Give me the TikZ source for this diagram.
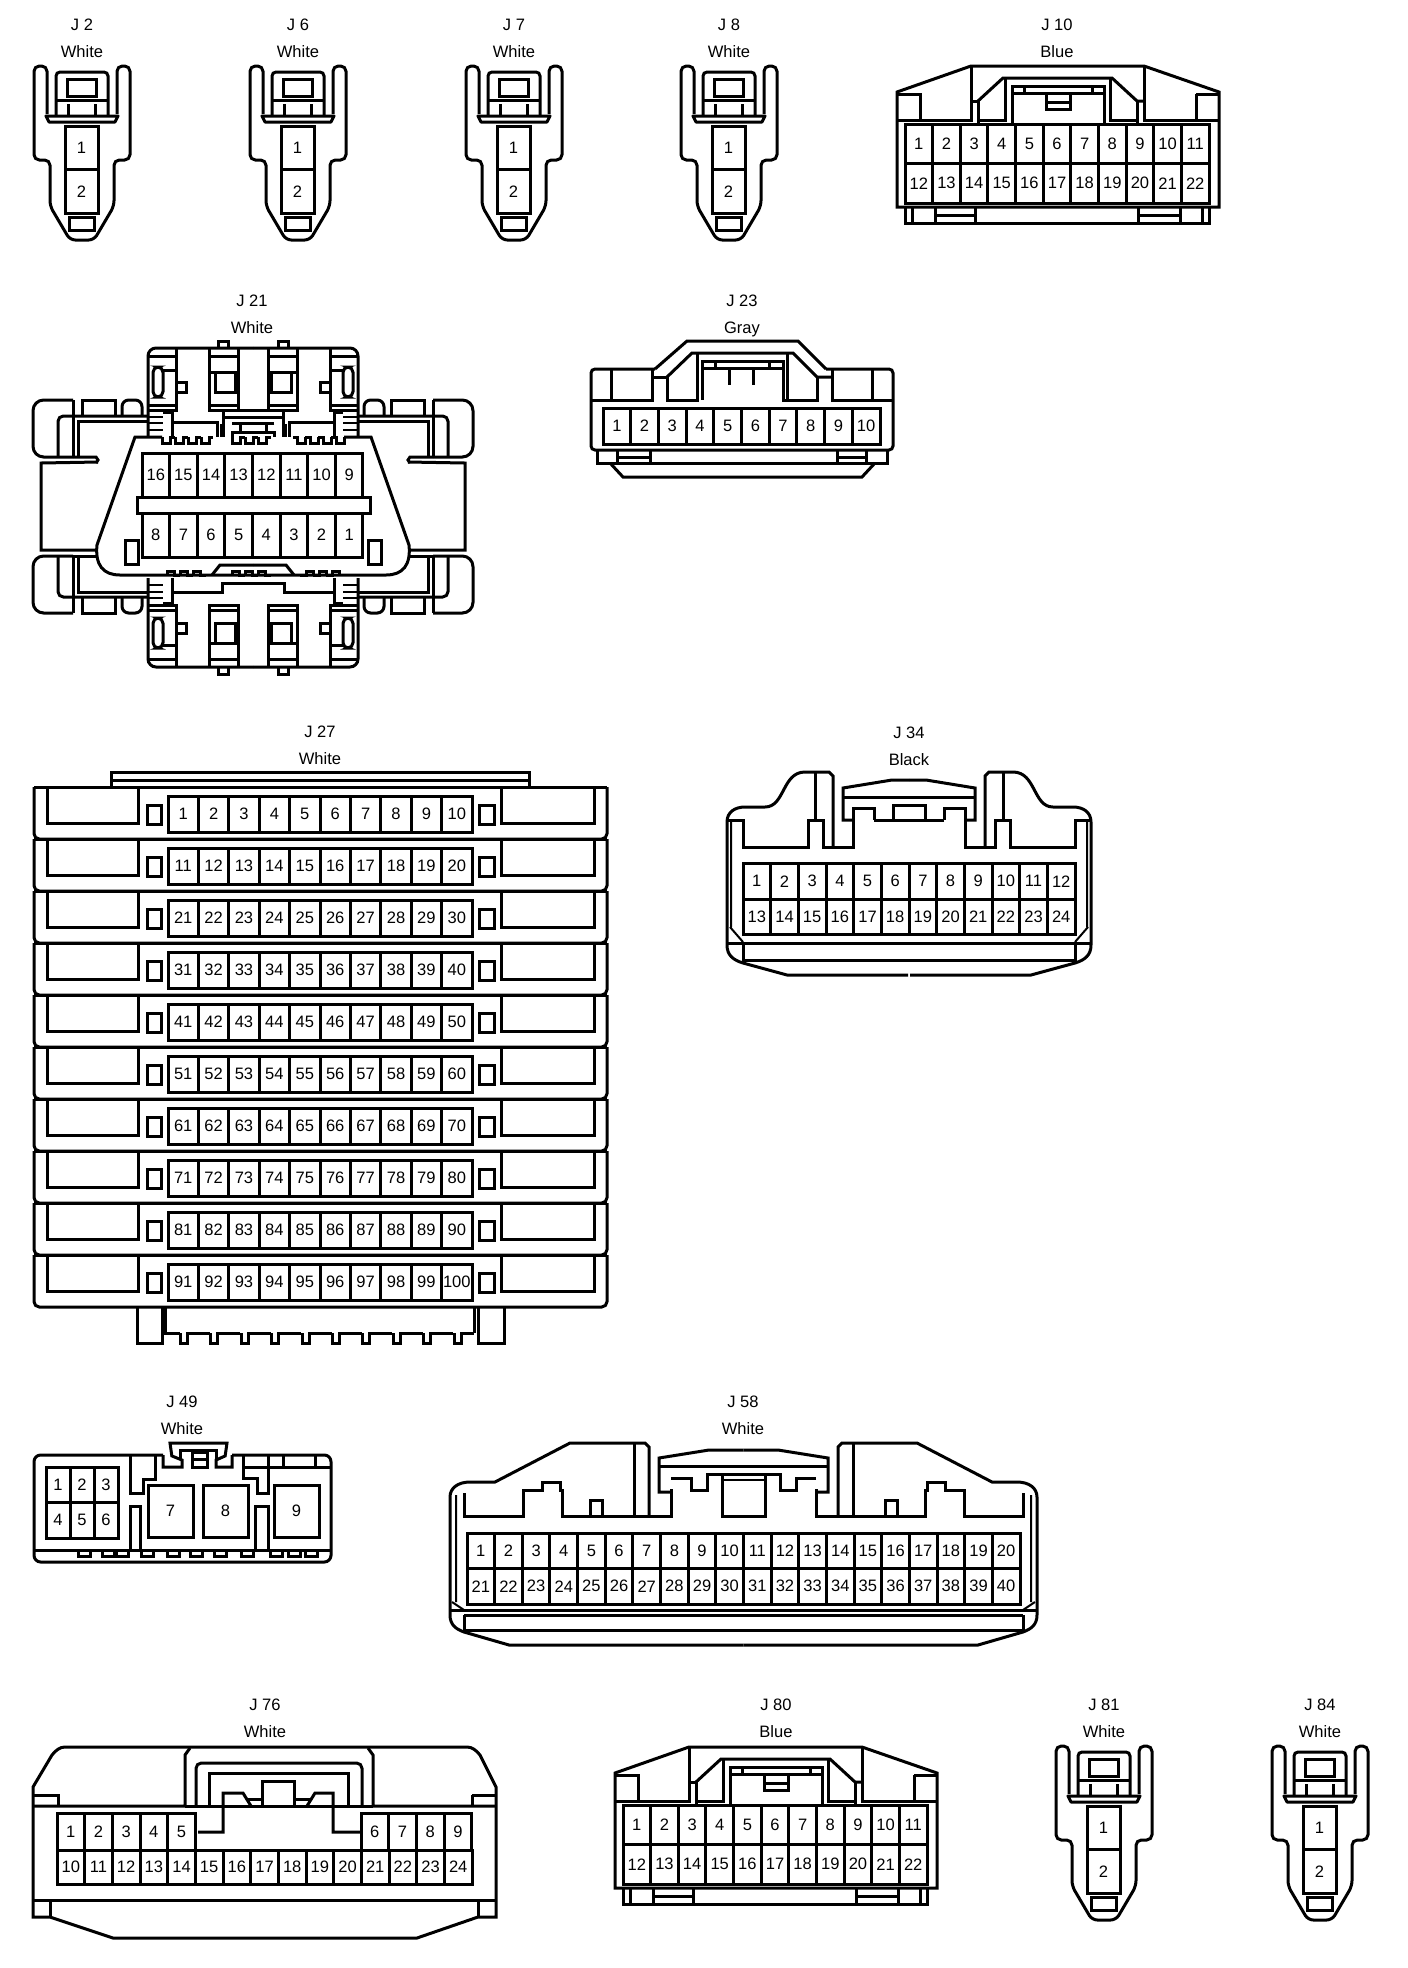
\documentclass[tikz,border=0pt]{standalone}
\usepackage{fontspec}
\setmainfont{Liberation Sans}

\tikzset{
  pincell/.style={draw,inner sep=0pt,font=\fontsize{12.4}{14}\selectfont},
  caption/.style={inner sep=0pt,text height=9pt,text depth=0pt,font=\fontsize{12.4}{14}\selectfont},
  thinline/.style={line width=1.5pt},
  flipx/.style={cm={-1,0,0,1,(#1,0)}},
  flipy/.style={cm={1,0,0,-1,(0,#1)}}
}

\newcommand\pinrow[7]{%
  \foreach \n [count=\col from 0] in {#7}
    \node[pincell,minimum width=#4*.75pt,minimum height=#5*.75pt] (#1-\n)
      at ({#2+(\col+.5)*#4},{#3+#5/2}) {#6\n};
}
\newcommand\captions[5]{%
  \node[caption] (#1name) at (#2,#3) {#4};
  \node[caption] (#1color) at (#2,#3+27) {#5};
}
\newcommand\teeth[5]{%
  \foreach \t in {#1}
    \draw (\t,#2) -- (\t,#3) -- (\t+#4,#3) -- (\t+#4,#2) -- (\t+#5,#2);
}
\newcommand\twopin[3]{%
  \begin{scope}[shift={(#2,#3)}]
    \draw[rounded corners=4pt] (47,114) -- (47,66) -- (34,66) -- (34,160) -- (50,160) -- (50,206)
      -- (70,240) -- (94,240) -- (114,206) -- (114,160) -- (130,160) -- (130,66) -- (117,66) -- (117,114);
    \draw[line join=round] (46,116) -- (118,116) -- (115,122) -- (49,122) -- cycle;
    \draw[rounded corners=3pt] (56,116) -- (56,72) -- (108,72) -- (108,116);
    \draw (56,100) -- (108,100);
    \draw (68,104) -- (68,116) (95,104) -- (95,116);
    \draw (67,79) rectangle (96,96);
    \draw (69,217) rectangle (94,230);
    \pinrow{#1}{65}{126}{33}{43.5}{}{1}
    \pinrow{#1}{65}{169.5}{33}{43.5}{}{2}
  \end{scope}
}
\newcommand\blueplug[3]{%
  \begin{scope}[shift={(#2,#3)}]
    \draw (897,207) -- (897,92) -- (971,66) -- (1144,66) -- (1219,92) -- (1219,207) -- cycle;
    \draw (897,94) -- (920,94) -- (920,120);
    \draw (897,120) -- (971,120) -- (971,66);
    \draw (971,101) -- (978,101) -- (978,124);
    \draw (978,101) -- (1003,78) -- (1112,78) -- (1137,101) -- (1144,101);
    \draw (1137,101) -- (1137,124);
    \draw (1144,66) -- (1144,120) -- (1219,120);
    \draw (1196,94) -- (1219,94) (1196,94) -- (1196,120);
    \draw (1005,78) -- (1005,120) -- (978,120);
    \draw (1110,78) -- (1110,120) -- (1137,120);
    \draw (1012,124) -- (1012,86) -- (1104,86) -- (1104,124);
    \draw (1012,93) -- (1104,93) (1024,86) -- (1024,93) (1092,86) -- (1092,93);
    \draw (1046,93) -- (1046,109) -- (1070,109) -- (1070,93) (1046,102) -- (1070,102);
    \pinrow{#1}{905}{124}{27.64}{39.5}{}{1,...,11}
    \pinrow{#1}{905}{163.5}{27.64}{39.5}{}{12,...,22}
    \draw (905,207) -- (905,223) -- (1209,223) -- (1209,207);
    \draw (912,207) -- (912,223) (1202,207) -- (1202,223);
    \draw (935,207) -- (935,223) (975,207) -- (975,223) (935,215) -- (975,215);
    \draw (1138,207) -- (1138,223) (1180,207) -- (1180,223) (1138,215) -- (1180,215);
  \end{scope}
}
\newcommand\obdwing{%
  \draw[rounded corners=8pt] (73,400) -- (33,400) -- (33,457) -- (73,457);
  \draw (73,400) -- (73,457);
  \draw (82,415) -- (82,400) -- (115,400) -- (115,415);
  \draw[rounded corners=5pt] (122,415) -- (122,400) -- (142,400) -- (142,415);
  \draw[rounded corners=4pt] (147,416) -- (58,416) -- (58,457);
  \draw (147,421) -- (78,421) -- (78,457);
}
\newcommand\obdclip{%
  \draw[rounded corners=6pt] (253,348) -- (148,348) -- (148,437);
  \draw (176,348) -- (176,410) -- (148,410);
  \draw (148,356) -- (176,356) (163,370) -- (176,370) (148,405) -- (176,405);
  \draw[rounded corners=4pt] (153,367) rectangle (163,397);
  \draw (176,382) -- (186,382) -- (186,392) -- (176,392);
  \draw (209,348) -- (209,410) -- (238,410) -- (238,348);
  \draw (209,356) -- (238,356) (209,372) -- (238,372) (209,405) -- (238,405);
  \draw (215,372) -- (215,392) -- (235,392) -- (235,372);
  \draw (218,348) -- (218,341) -- (228,341) -- (228,348);
  \draw[thinline] (148,417) -- (163,417) (148,423) -- (163,423) (148,430) -- (163,430);
  \draw (163,412) -- (172,412) -- (172,437);
}
\newcommand\obdleft{%
  \draw (98,462) -- (41,463) -- (41,550) -- (97,550);
  \draw (73,457) -- (96,457) -- (98,460) -- (96,463);
  \draw (73,556) -- (97,556);
  \draw (253,575) -- (120,575) .. controls (103,575) and (95,565) .. (97,545) -- (135,437) -- (162,437);
  \draw (125,540) rectangle (138,564);
  \draw (172,422) -- (217,422) -- (217,437) (221,424) -- (221,437);
  \draw (223,410) -- (223,437) (223,417) -- (253,417);
  \draw (232,437) -- (232,432) -- (253,432);
  \draw (232,423) -- (240,423) -- (240,431);
  \draw (232,423) -- (253,423);
  \draw (172,592) -- (222,592) -- (222,583) -- (253,583);
  \draw (212,575) -- (220,565) -- (253,565);
  \teeth{162,175,188}{437}{443}{8}{13}
  \teeth{201}{437}{443}{8}{12}
  \teeth{167,180,193}{575}{571}{7}{13}
}
\newcommand\halfjtf{%
  \draw (908,975) -- (787,975) -- (743,963) .. controls (733,960) and (727,955) .. (727,945) -- (727,822)
    .. controls (727,812) and (735,807) .. (745,807) -- (765,807) .. controls (785,807) and (782,772) .. (805,772)
    -- (829,772) -- (833,776) -- (833,847);
  \draw (727,820) -- (743,820) -- (743,847) -- (808,847) -- (808,820) -- (823,820) -- (823,847) -- (853,847)
    -- (853,808) -- (874,808) -- (874,820);
  \draw (815,772) -- (815,820);
  \draw (874,820) -- (893,820) -- (893,805) -- (909,805);
  \draw (853,820) -- (843,820) -- (843,788) -- (892,780) -- (909,780);
  \draw (843,797) -- (909,797);
  \draw (727,943) -- (909,943) (743,943) -- (743,960) -- (909,960);
  \draw[thinline] (730,927) -- (743,942) (731,820) -- (731,927);
}
\newcommand\halfjfe{%
  \draw (743.5,1645) -- (509,1645) -- (464,1632) .. controls (456,1629) and (450,1625) .. (450,1615) -- (450,1497)
    .. controls (450,1488) and (458,1482) .. (470,1482) -- (495,1482) -- (570,1443) -- (645,1443) -- (649,1447) -- (649,1517);
  \draw (464,1493) -- (464,1516) -- (523,1516) -- (523,1490) -- (542,1490) -- (542,1482) -- (560,1482) -- (560,1490)
    -- (562,1490) -- (562,1516) -- (671,1516) -- (671,1489);
  \draw (590,1516) -- (590,1500) -- (602,1500) -- (602,1516);
  \draw (634,1443) -- (634,1516);
  \draw (671,1492) -- (659,1492) -- (659,1458) -- (709,1450) -- (743.5,1450);
  \draw (659,1466) -- (743.5,1466);
  \draw (671,1478) -- (691,1478) -- (691,1490) -- (707,1490) -- (707,1474) -- (743.5,1474);
  \draw (722,1474) -- (722,1516) -- (743.5,1516);
  \draw[thinline] (722,1480) -- (743.5,1480);
  \draw (450,1610) -- (743.5,1610) (464,1615) -- (743.5,1615) (464,1615) -- (464,1630) -- (743.5,1630);
  \draw[thinline] (452,1602) -- (464,1610) (456,1495) -- (456,1602);
}

\begin{document}
\begin{tikzpicture}
  [x=.75pt,y=-.75pt,line width=2.25pt]
  \useasboundingbox (0,0) rectangle (1408,1968);

  \captions{jtwo}{82}{24}{J 2}{White}
  \twopin{jtwo}{0}{0}
  \captions{jsix}{298}{24}{J 6}{White}
  \twopin{jsix}{216}{0}
  \captions{jseven}{514}{24}{J 7}{White}
  \twopin{jseven}{432}{0}
  \captions{jeight}{729}{24}{J 8}{White}
  \twopin{jeight}{647}{0}
  \captions{jten}{1057}{24}{J 10}{Blue}
  \blueplug{jten}{0}{0}

  \captions{jtwentyone}{252}{300}{J 21}{White}
  \obdwing
  \begin{scope}[flipx=506] \obdwing \end{scope}
  \begin{scope}[flipy=1013] \obdwing \end{scope}
  \begin{scope}[flipx=506] \begin{scope}[flipy=1013] \obdwing \end{scope} \end{scope}
  \obdclip
  \begin{scope}[flipx=506] \obdclip \end{scope}
  \begin{scope}[flipy=1015] \obdclip \end{scope}
  \begin{scope}[flipx=506] \begin{scope}[flipy=1015] \obdclip \end{scope} \end{scope}
  \obdleft
  \begin{scope}[flipx=506] \obdleft \end{scope}
  \draw (238,410) -- (268,410);
  \teeth{232,245,258}{437}{443}{8}{13}
  \teeth{232,245,258}{575}{571}{7}{13}
  \pinrow{jtwentyone}{142}{453}{27.62}{44}{}{16,15,...,9}
  \pinrow{jtwentyone}{142}{513}{27.62}{44}{}{8,7,...,1}
  \draw (137,497) rectangle (370,513);

  \captions{jtwentythree}{742}{300}{J 23}{Gray}
  \draw (655,369) -- (687,341) -- (798,341) -- (826,369);
  \draw[rounded corners=3pt] (655,369) -- (591,369) -- (591,450) -- (893,450) -- (893,369) -- (826,369);
  \draw (611,369) -- (611,400) (591,400) -- (652,400) -- (652,369);
  \draw (652,377) -- (667,377) -- (667,400) -- (697,400) -- (697,353);
  \draw (667,377) -- (692,353) -- (793,353) -- (817,377) -- (832,377);
  \draw (817,377) -- (817,400) -- (783,400) -- (783,361) -- (702,361) -- (702,400);
  \draw (787,353) -- (787,400);
  \draw (832,369) -- (832,400) -- (893,400) (872,369) -- (872,400);
  \draw (702,368) -- (783,368) (715,361) -- (715,368) (769,361) -- (769,368);
  \draw (729,368) -- (729,385) (753,368) -- (753,385);
  \pinrow{jtwentythree}{603}{408}{27.7}{36}{}{1,...,10}
  \draw (597,450) -- (597,463) -- (887,463) -- (887,450);
  \draw (617,450) -- (617,463) (650,450) -- (650,463) (617,457) -- (650,457);
  \draw (837,450) -- (837,463) (866,450) -- (866,463) (837,457) -- (866,457);
  \draw (610,463) -- (623,477) -- (862,477) -- (875,463);

  \captions{jtwentyseven}{320}{731}{J 27}{White}
  \draw (111,787) -- (111,772) -- (529,772) -- (529,787) (111,780) -- (529,780);
  \foreach \r [evaluate=\r as \ty using int(787+52*\r),
               evaluate=\r as \first using int(10*\r+1),
               evaluate=\r as \last using int(10*\r+10)] in {0,...,9} {
    \draw[rounded corners=4pt] (34,\ty) -- (34,\ty+52) -- (607,\ty+52) -- (607,\ty);
    \draw (34,\ty) -- (607,\ty);
    \draw (47,\ty) -- (47,\ty+36) -- (138,\ty+36) -- (138,\ty);
    \draw (147,\ty+18) rectangle (161,\ty+37);
    \draw (479,\ty+18) rectangle (494,\ty+37);
    \draw (501,\ty) -- (501,\ty+36) -- (594,\ty+36) -- (594,\ty);
    \pinrow{jtwentyseven}{168}{\ty+9}{30.4}{36}{}{\first,...,\last}
  }
  \draw (137,1307) -- (137,1343) -- (162,1343) -- (162,1307);
  \draw (478,1307) -- (478,1343) -- (504,1343) -- (504,1307);
  \draw (165,1307) -- (165,1333) -- (180,1333);
  \teeth{180,210,241,271,302,332,362,393,423}{1333}{1343}{7}{30.4}
  \teeth{454}{1333}{1343}{7}{20}
  \draw (474,1333) -- (474,1307);

  \captions{jthirtyfour}{909}{732}{J 34}{Black}
  \halfjtf
  \begin{scope}[flipx=1818] \halfjtf \end{scope}
  \draw (893,820) -- (925,820);
  \pinrow{jthirtyfour}{743}{863}{27.67}{36.5}{}{1,...,12}
  \pinrow{jthirtyfour}{743}{899.5}{27.67}{35}{}{13,...,24}

  \captions{jfortynine}{182}{1401}{J 49}{White}
  \draw[rounded corners=5pt] (163,1455) -- (34,1455) -- (34,1562) -- (331,1562) -- (331,1455) -- (232,1455);
  \draw (172,1457) -- (170,1443) -- (227,1443) -- (225,1457);
  \draw (180,1460) -- (180,1450) -- (216,1450) -- (216,1460);
  \draw (163,1455) -- (163,1467) -- (182,1467) -- (182,1460) -- (172,1456);
  \draw (232,1455) -- (232,1467) -- (216,1467) -- (216,1460) -- (225,1456);
  \draw (192,1452) rectangle (207,1467) (192,1459) -- (207,1459);
  \draw (130,1455) -- (130,1493) -- (143,1493) -- (143,1479) -- (155,1479) -- (155,1455);
  \draw (243,1455) -- (243,1478) -- (257,1478) -- (257,1493) -- (268,1493) -- (268,1467);
  \draw (243,1467) -- (331,1467) (268,1455) -- (268,1467) (283,1455) -- (283,1467) (315,1455) -- (315,1467);
  \draw (130,1550) -- (130,1506) -- (140,1506) -- (140,1550);
  \draw (255,1550) -- (255,1506) -- (268,1506) -- (268,1550);
  \draw (34,1550) -- (331,1550);
  \teeth{78,102,116,141,167,190,214,241,270,288,305}{1550}{1556}{12}{12}
  \pinrow{jfortynine}{46}{1467}{24}{35.5}{}{1,2,3}
  \pinrow{jfortynine}{46}{1502.5}{24}{35.5}{}{4,5,6}
  \pinrow{jfortynine}{148}{1485}{45}{52}{}{7}
  \pinrow{jfortynine}{203}{1485}{45}{52}{}{8}
  \pinrow{jfortynine}{274}{1485}{45}{52}{}{9}

  \captions{jfiftyeight}{743}{1401}{J 58}{White}
  \halfjfe
  \begin{scope}[flipx=1487] \halfjfe \end{scope}
  \pinrow{jfiftyeight}{467}{1533}{27.65}{35.5}{}{1,...,20}
  \pinrow{jfiftyeight}{467}{1568.5}{27.65}{35.5}{}{21,...,40}

  \captions{jseventysix}{265}{1704}{J 76}{White}
  \draw (33,1917) -- (33,1787) -- (52,1755) .. controls (56,1750) and (60,1747) .. (65,1747) -- (467,1747)
    .. controls (472,1747) and (476,1750) .. (480,1755) -- (496,1787) -- (496,1917) -- (478,1917) -- (417,1938)
    -- (113,1938) -- (50,1917) -- cycle;
  \draw (33,1900) -- (496,1900) (50,1900) -- (50,1917) (478,1900) -- (478,1917);
  \draw (33,1806) -- (185,1806) -- (185,1755) -- (190,1748);
  \draw (373,1806) -- (496,1806) (373,1806) -- (373,1755) -- (368,1748);
  \draw (33,1795) -- (58,1795) -- (58,1806) (472,1795) -- (496,1795) (472,1795) -- (472,1806);
  \draw[rounded corners=4pt] (196,1806) -- (196,1763) -- (362,1763) -- (362,1806);
  \draw (185,1806) -- (209,1806) (348,1806) -- (373,1806);
  \draw (209,1773) rectangle (348,1806);
  \draw (198,1832) -- (223,1832) -- (223,1793) -- (243,1793) -- (251,1806);
  \draw (247,1799) -- (262,1799) (294,1799) -- (312,1799);
  \draw (262,1806) -- (262,1781) -- (294,1781) -- (294,1806);
  \draw (307,1806) -- (315,1793) -- (333,1793) -- (333,1832) -- (361,1832);
  \pinrow{jseventysix}{57}{1813}{27.67}{37}{}{1,...,5}
  \pinrow{jseventysix}{361}{1813}{27.67}{37}{}{6,...,9}
  \pinrow{jseventysix}{57}{1850}{27.67}{34}{}{10,...,24}

  \captions{jeighty}{776}{1704}{J 80}{Blue}
  \blueplug{jeighty}{-282}{1681}
  \captions{jeightyone}{1104}{1704}{J 81}{White}
  \twopin{jeightyone}{1022}{1680}
  \captions{jeightyfour}{1320}{1704}{J 84}{White}
  \twopin{jeightyfour}{1238}{1680}
\end{tikzpicture}
\end{document}
